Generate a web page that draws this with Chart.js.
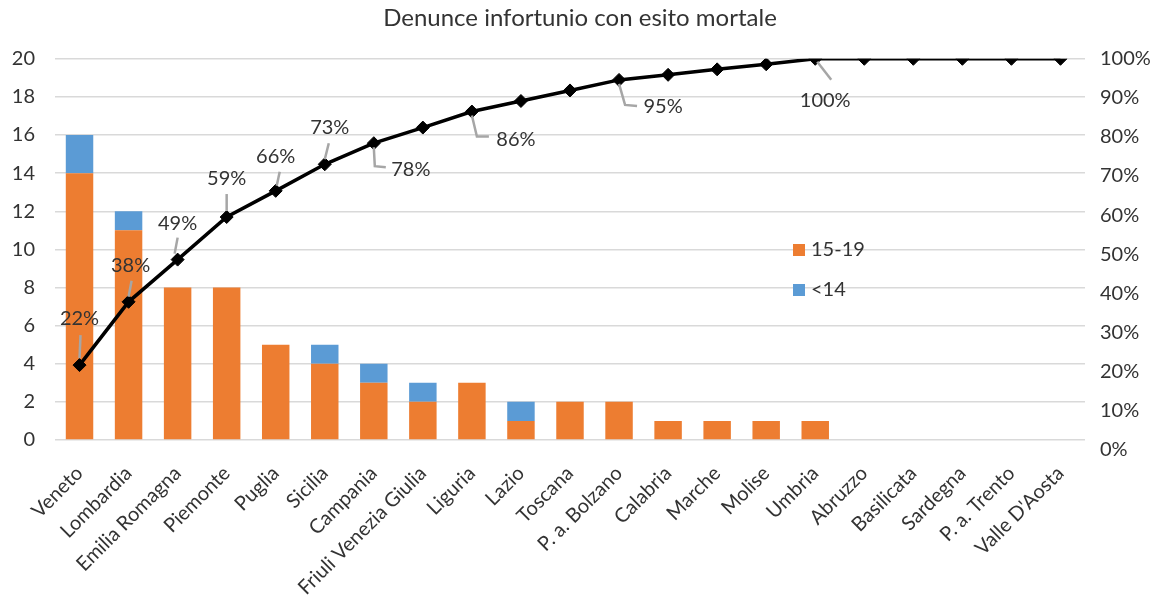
<!DOCTYPE html>
<html>
<head>
<meta charset="utf-8">
<script src="https://cdn.jsdelivr.net/npm/chart.js@4.4.1/dist/chart.umd.min.js"></script>
<style>
html,body{margin:0;padding:0;background:#ffffff;}
#wrap{width:1160px;height:605px;}
</style>
</head>
<body>
<div id="wrap"><canvas id="c" width="1160" height="605"></canvas></div>
<script>
const categories = ["Veneto","Lombardia","Emilia Romagna","Piemonte","Puglia","Sicilia","Campania","Friuli Venezia Giulia","Liguria","Lazio","Toscana","P. a. Bolzano","Calabria","Marche","Molise","Umbria","Abruzzo","Basilicata","Sardegna","P. a. Trento","Valle D'Aosta"];
const age15to19 = [14,11,8,8,5,4,3,2,3,1,2,2,1,1,1,1,0,0,0,0,0];
const under14 = [2,1,0,0,0,1,1,1,0,1,0,0,0,0,0,0,0,0,0,0,0];
const cumulativePct = [0.216,0.378,0.486,0.595,0.662,0.730,0.784,0.824,0.865,0.892,0.919,0.946,0.959,0.973,0.986,1,1,1,1,1,1];
const pctLabels = ["22%","38%","49%","59%","66%","73%","78%",null,"86%",null,null,"95%",null,null,null,"100%",null,null,null,null,null];
const leftTicks = [0,2,4,6,8,10,12,14,16,18,20];
const seriesNames = ["15-19","<14","Cumulata"];

const FONT = "Lato";
const TXT = "#333333";

// label placement relative to its point: text centre offset, leader polyline offsets
const labelPlacement = {
  0:{t:[0,-47], l:[[1,-30],[0,-7]]},
  1:{t:[2,-36], l:[[3,-21],[0,-5]]},
  2:{t:[0,-36], l:[[0,-22],[-3,-6]]},
  3:{t:[0,-38], l:[[0,-23],[0,-6]]},
  4:{t:[0,-34], l:[[4,-19],[1,-5]]},
  5:{t:[5,-37], l:[[4,-21],[0,-5]]},
  6:{t:[37,26], l:[[0,4],[1,23],[12,24]]},
  8:{t:[44,28], l:[[0,4],[5,25],[17,25]]},
  11:{t:[44,27], l:[[0,4],[6,25],[18,26]]},
  15:{t:[10,42], l:[[2,3],[16,21]]}
};

const pctLabelPlugin = {
  id: 'pctLabels',
  afterDatasetsDraw(chart) {
    const meta = chart.getDatasetMeta(0);
    const ctx = chart.ctx;
    ctx.save();
    meta.data.forEach((pt, i) => {
      const txt = pctLabels[i];
      if (!txt) return;
      const p = labelPlacement[i];
      ctx.strokeStyle = '#a6a6a6';
      ctx.lineWidth = 2.5;
      ctx.beginPath();
      p.l.forEach((o, k) => {
        const X = pt.x + o[0], Y = pt.y + o[1];
        if (k === 0) ctx.moveTo(X, Y); else ctx.lineTo(X, Y);
      });
      ctx.stroke();
      ctx.fillStyle = TXT;
      ctx.font = `20px ${FONT}`;
      ctx.textAlign = 'center';
      ctx.textBaseline = 'middle';
      ctx.fillText(txt, pt.x + p.t[0], pt.y + p.t[1]);
    });
    ctx.restore();
  }
};

const legendPlugin = {
  id: 'innerLegend',
  afterDraw(chart) {
    const ctx = chart.ctx;
    const items = [chart.data.datasets[1], chart.data.datasets[2]];
    ctx.save();
    items.forEach((ds, k) => {
      const y = 250 + k * 40;
      ctx.fillStyle = ds.backgroundColor;
      ctx.fillRect(793, y - 6, 12, 12);
      ctx.fillStyle = TXT;
      ctx.font = `20px ${FONT}`;
      ctx.textAlign = 'left';
      ctx.textBaseline = 'middle';
      ctx.fillText(ds.label, 811, y);
    });
    ctx.restore();
  }
};

new Chart(document.getElementById('c'), {
  type: 'bar',
  data: {
    labels: categories,
    datasets: [
      {
        type: 'line',
        label: seriesNames[2],
        data: cumulativePct,
        yAxisID: 'y1',
        borderColor: '#000000',
        backgroundColor: '#000000',
        borderWidth: 3.5,
        pointStyle: 'rectRot',
        pointRadius: 6.5,
        pointBorderWidth: 1,
        pointBackgroundColor: '#000000',
        tension: 0,
        order: 0
      },
      {
        label: seriesNames[0],
        data: age15to19,
        backgroundColor: '#ED7D31',
        yAxisID: 'y',
        stack: 's',
        barPercentage: 0.56,
        categoryPercentage: 1,
        order: 1
      },
      {
        label: seriesNames[1],
        data: under14,
        backgroundColor: '#5B9BD5',
        yAxisID: 'y',
        stack: 's',
        barPercentage: 0.56,
        categoryPercentage: 1,
        order: 2
      }
    ]
  },
  options: {
    responsive: false,
    devicePixelRatio: 1,
    animation: false,
    layout: { padding: 0 },
    plugins: {
      legend: { display: false },
      tooltip: { enabled: false },
      title: {
        display: true,
        text: 'Denunce infortunio con esito mortale',
        color: TXT,
        font: { family: FONT, size: 24, weight: 'normal' },
        padding: { top: 4, bottom: 26 }
      }
    },
    scales: {
      x: {
        stacked: true,
        grid: { display: false },
        border: { display: false },
        ticks: {
          autoSkip: false,
          maxRotation: 45,
          minRotation: 45,
          color: TXT,
          font: { family: FONT, size: 20 },
          padding: 4
        },
        afterFit(s) { s.height = 155.5; }
      },
      y: {
        position: 'left',
        stacked: true,
        min: -0.5,
        max: 20,
        afterBuildTicks(s) { s.ticks = leftTicks.map(v => ({ value: v })); },
        grid: { color: '#d9d9d9', lineWidth: 1.5, drawTicks: false },
        border: { display: false },
        ticks: { color: TXT, font: { family: FONT, size: 20 }, padding: 20 },
        afterFit(s) { s.width = 55; }
      },
      y1: {
        position: 'right',
        min: 0,
        max: 1,
        grid: { display: false, drawTicks: false },
        border: { display: false },
        ticks: {
          stepSize: 0.1,
          color: TXT,
          font: { family: FONT, size: 20 },
          padding: 15,
          callback: v => Math.round(v * 100) + '%'
        },
        afterFit(s) { s.width = 75; }
      }
    }
  },
  plugins: [pctLabelPlugin, legendPlugin]
});
</script>
</body>
</html>
